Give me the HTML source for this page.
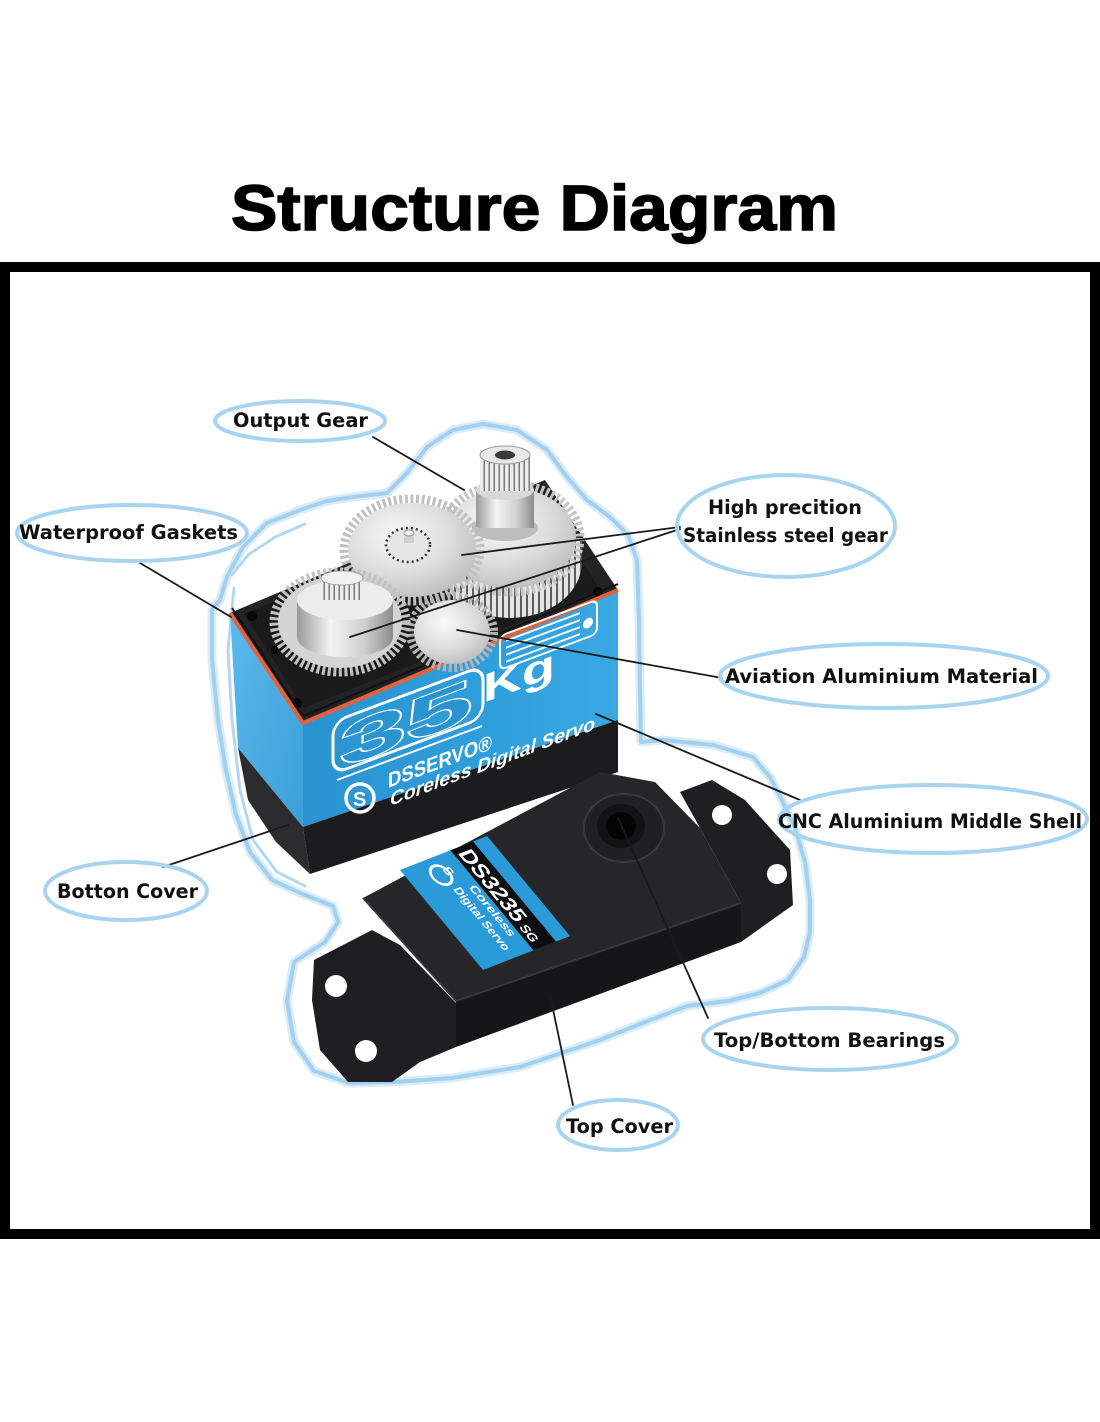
<!DOCTYPE html>
<html><head><meta charset="utf-8">
<style>
html,body{margin:0;padding:0;background:#fff;}
svg{display:block;}
.lbl{font-family:"DejaVu Sans","Liberation Sans",sans-serif;font-weight:bold;font-size:19.5px;fill:#111;}
</style></head><body>
<svg width="1100" height="1422" viewBox="0 0 1100 1422" xmlns="http://www.w3.org/2000/svg">
<defs>
 <linearGradient id="blueF" x1="0" y1="0" x2="1" y2="0">
  <stop offset="0" stop-color="#2a93d0"/><stop offset="0.6" stop-color="#2f9fdc"/><stop offset="1" stop-color="#3aa9e3"/>
 </linearGradient>
 <linearGradient id="blueL" x1="0" y1="0" x2="1" y2="1">
  <stop offset="0" stop-color="#5bb9ec"/><stop offset="1" stop-color="#3d9fd8"/>
 </linearGradient>
 <radialGradient id="silver" cx="0.4" cy="0.35" r="0.75">
  <stop offset="0" stop-color="#fafafa"/><stop offset="0.55" stop-color="#dcdcdc"/><stop offset="1" stop-color="#b8b8b8"/>
 </radialGradient>
 <linearGradient id="silverH" x1="0" y1="0" x2="1" y2="0">
  <stop offset="0" stop-color="#9a9a9a"/><stop offset="0.35" stop-color="#f4f4f4"/><stop offset="0.7" stop-color="#cfcfcf"/><stop offset="1" stop-color="#8c8c8c"/>
 </linearGradient>
 <pattern id="vstripe" width="6" height="20" patternUnits="userSpaceOnUse">
  <rect width="6" height="20" fill="#e4e4e4"/><rect x="4" width="2" height="20" fill="#5e5e5e"/>
 </pattern>
 <pattern id="vstripe2" width="5" height="20" patternUnits="userSpaceOnUse">
  <rect width="5" height="20" fill="#ececec"/><rect x="3.5" width="1.5" height="20" fill="#7a7a7a"/>
 </pattern>
</defs>
<rect width="1100" height="1422" fill="#fff"/>

<!-- Title -->
<text x="231" y="230" font-family="Liberation Sans, sans-serif" font-weight="bold" font-size="64" textLength="607" lengthAdjust="spacingAndGlyphs" fill="#000" stroke="#000" stroke-width="1.6">Structure Diagram</text>

<!-- Frame -->
<rect x="5" y="267" width="1090" height="967" fill="none" stroke="#000" stroke-width="10"/>

<!-- Glow outline -->
<g fill="none" stroke-linejoin="round" stroke-linecap="round">
 <path d="M453,430 L483,424 L517,430 L547,450 L567,477 L587,500 L610,517 L628,535 L637,560 L639,620 L640,690 L641,742 L663,740 L713,745 L753,757 L770,777 L782,800 L795,828 L805,862 L810,900 L810,932 L804,957 L788,980 L760,993 L728,1001 L687,1006 L640,1024 L600,1040 L520,1067 L452,1078 L394,1082 L349,1083 L314,1071 L294,1042 L287,1001 L294,962 L325,942 L338,922 L333,906 L300,893 L272,880 L250,852 L236,815 L226,770 L218,720 L212,660 L212,610 L220,600 L227,577 L243,547 L267,523 L300,510 L327,501 L353,497 L387,493 L407,473 L427,447 Z" stroke="#d8ecf8" stroke-width="9"/>
 <path d="M453,430 L483,424 L517,430 L547,450 L567,477 L587,500 L610,517 L628,535 L637,560 L639,620 L640,690 L641,742 L663,740 L713,745 L753,757 L770,777 L782,800 L795,828 L805,862 L810,900 L810,932 L804,957 L788,980 L760,993 L728,1001 L687,1006 L640,1024 L600,1040 L520,1067 L452,1078 L394,1082 L349,1083 L314,1071 L294,1042 L287,1001 L294,962 L325,942 L338,922 L333,906 L300,893 L272,880 L250,852 L236,815 L226,770 L218,720 L212,660 L212,610 L220,600 L227,577 L243,547 L267,523 L300,510 L327,501 L353,497 L387,493 L407,473 L427,447 Z" stroke="#a3d0ee" stroke-width="4"/>
 <path d="M234,588 L228,650 L232,720 L240,790 L253,840 L277,872 L305,886" stroke="#b3d9f1" stroke-width="3"/>
 <path d="M232,575 L248,555 L275,537 L305,524" stroke="#b3d9f1" stroke-width="3"/>
</g>

<!-- ===== Servo box ===== -->
<polygon points="230,613 303,723 618,590 545,480" fill="#232325"/>
<polygon points="244,614 304,708 600,590 540,495" fill="#1a1a1b"/>
<circle cx="252" cy="616" r="5" fill="#070707"/>
<circle cx="297" cy="703" r="5" fill="#070707"/>
<circle cx="598" cy="592" r="5" fill="#070707"/>
<circle cx="275" cy="650" r="4" fill="#070707"/>
<polygon points="230,613 303,723 303,827 238,748" fill="url(#blueL)"/>
<polygon points="303,723 618,590 618,720 303,827" fill="url(#blueF)"/>
<polygon points="238,748 303,827 310,874 276,842 248,800" fill="#2c2c2e"/>
<polygon points="303,827 618,720 618,772 310,874" fill="#1c1c1e"/>
<polyline points="230,613 303,723 618,590" fill="none" stroke="#e2623b" stroke-width="4" stroke-linejoin="round"/>
<polyline points="232,608 303,716 618,584" fill="none" stroke="#111" stroke-width="2" stroke-linejoin="round"/>

<!-- front face printing -->
<g fill="#fff" font-family="Liberation Sans, sans-serif" font-weight="bold">
 <g transform="translate(333,772) skewY(-20.5)">
  <rect x="0" y="-50" width="150" height="52" rx="14" fill="none" stroke="#fff" stroke-width="3"/>
 </g>
 <text transform="translate(340,768) skewY(-20.5) scale(2.05,1)" font-size="58" fill="#2a93d0" stroke="#fff" stroke-width="2.2" paint-order="stroke">35</text>
 <g transform="translate(500,668) skewY(-20.5)" stroke="#fff" stroke-width="2">
  <rect x="0" y="-32" width="97" height="34" rx="6" fill="none"/>
  <line x1="6" y1="-25" x2="80" y2="-25"/>
  <line x1="6" y1="-18" x2="80" y2="-18"/>
  <line x1="6" y1="-11" x2="80" y2="-11"/>
  <line x1="6" y1="-4" x2="80" y2="-4"/>
  <circle cx="88" cy="-12" r="5" fill="#fff" stroke="none"/>
 </g>
 <text transform="translate(483,703) skewY(-20.5) scale(1.35,1)" font-size="40">Kg</text>
 <line x1="337" y1="780" x2="482" y2="726" stroke="#fff" stroke-width="2"/>
 <text transform="translate(388,788) skewY(-20.5)" font-size="21" textLength="104" lengthAdjust="spacingAndGlyphs">DSSERVO®</text>
 <text transform="translate(390,806) skewY(-20.5)" font-size="19" font-style="italic" textLength="205" lengthAdjust="spacingAndGlyphs">Coreless Digital Servo</text>
 <circle cx="360" cy="798" r="14" fill="none" stroke="#fff" stroke-width="3.5"/>
 <text x="353" y="806" font-size="20">S</text>
</g>

<!-- ===== Gears ===== -->
<path d="M438,538 L438,562 A72,56 0 0 0 582,562 L582,538 Z" fill="url(#vstripe)"/>
<ellipse cx="510" cy="538" rx="70" ry="54" fill="none" stroke="#c4c4c4" stroke-width="9" stroke-dasharray="3 2.6"/>
<ellipse cx="510" cy="538" rx="66" ry="50" fill="url(#silver)"/>
<ellipse cx="505" cy="528" rx="33" ry="13" fill="#bdbdbd"/>
<rect x="476" y="490" width="58" height="38" fill="url(#silverH)"/>
<ellipse cx="505" cy="490" rx="29" ry="10" fill="#d8d8d8"/>
<rect x="480" y="455" width="50" height="36" fill="url(#vstripe2)"/>
<ellipse cx="505" cy="455" rx="25" ry="9" fill="#e8e8e8" stroke="#9a9a9a" stroke-width="1"/>
<ellipse cx="505" cy="455" rx="10" ry="4.5" fill="#3a3a3a"/>
<ellipse cx="412" cy="550" rx="68" ry="51" fill="none" stroke="#c0c0c0" stroke-width="9" stroke-dasharray="3 2.6"/>
<ellipse cx="412" cy="550" rx="64" ry="47" fill="url(#silver)"/>
<ellipse cx="408" cy="545" rx="22" ry="17" fill="#e6e6e6" stroke="#333" stroke-width="2.5" stroke-dasharray="2 3"/>
<rect x="404" y="533" width="10" height="10" fill="#d0d0d0"/>
<ellipse cx="409" cy="533" rx="5" ry="3" fill="#f4f4f4" stroke="#888" stroke-width="0.8"/>
<ellipse cx="452" cy="632" rx="42" ry="36" fill="none" stroke="#b4b4b4" stroke-width="8" stroke-dasharray="3 2.6"/>
<ellipse cx="452" cy="632" rx="38" ry="32" fill="url(#silver)"/>
<ellipse cx="340" cy="622" rx="66" ry="50" fill="none" stroke="#c2c2c2" stroke-width="9" stroke-dasharray="3 2.6"/>
<ellipse cx="340" cy="622" rx="62" ry="46" fill="#d4d4d4"/>
<path d="M297,600 L297,637 A48,20 0 0 0 393,637 L393,600 Z" fill="url(#silverH)"/>
<ellipse cx="345" cy="600" rx="48" ry="20" fill="#ececec"/>
<rect x="321" y="578" width="42" height="22" fill="url(#vstripe2)"/>
<ellipse cx="342" cy="578" rx="21" ry="7" fill="#f2f2f2" stroke="#999" stroke-width="0.8"/>

<!-- ===== Top cover ===== -->
<polygon points="314,960 372,930 400,945 456,1003 456,1047 420,1062 392,1082 348,1082 320,1050 312,1000" fill="#1f1f21"/>
<circle cx="336" cy="986" r="11" fill="#fff"/>
<circle cx="366" cy="1051" r="11" fill="#fff"/>
<polygon points="680,792 712,780 745,800 790,850 793,905 741,942 741,903 700,828" fill="#1f1f21"/>
<circle cx="722" cy="815" r="10" fill="#fff"/>
<circle cx="777" cy="874" r="10" fill="#fff"/>
<polygon points="456,1001 741,903 741,942 456,1047" fill="#161618"/>
<polygon points="363,898 600,772 655,782 700,828 741,903 456,1001" fill="#262628"/>
<polyline points="363,898 456,1001 741,903" fill="none" stroke="#38383a" stroke-width="2"/>
<ellipse cx="624" cy="828" rx="40" ry="34" fill="#202022" stroke="#3a3a3c" stroke-width="2"/>
<ellipse cx="621" cy="826" rx="24" ry="22" fill="#131315"/>
<ellipse cx="621" cy="826" rx="15" ry="14" fill="#050505"/>
<g transform="matrix(0.87,-0.34,0.83,1,400,870)">
 <rect x="0" y="0" width="58" height="100" fill="#2a9ad8"/>
 <rect x="58" y="0" width="26" height="100" fill="#0e0e10"/>
 <rect x="84" y="0" width="16" height="100" fill="#2a9ad8"/>
 <circle cx="32" cy="16" r="9" fill="none" stroke="#fff" stroke-width="2.5"/>
 <g font-family="Liberation Sans, sans-serif" font-weight="bold" fill="#fff">
  <text transform="translate(37,11) rotate(90)" font-size="12">S</text>
  <text transform="translate(47,33) rotate(90)" font-size="12" textLength="50" lengthAdjust="spacingAndGlyphs">Coreless</text>
  <text transform="translate(32,30) rotate(90)" font-size="12" textLength="62" lengthAdjust="spacingAndGlyphs">Digital Servo</text>
  <text transform="translate(62,4) rotate(90)" font-size="22" textLength="70" lengthAdjust="spacingAndGlyphs">DS3235</text>
  <text transform="translate(62,78) rotate(90)" font-size="13" textLength="16" lengthAdjust="spacingAndGlyphs">SG</text>
 </g>
</g>

<!-- ===== Connector lines ===== -->
<g stroke="#1a1a1a" stroke-width="1.8" fill="none" stroke-linecap="round">
 <line x1="373" y1="437" x2="464" y2="490"/>
 <line x1="140" y1="563" x2="231" y2="617"/>
 <line x1="680" y1="527" x2="462" y2="555"/>
 <line x1="680" y1="529" x2="350" y2="637"/>
 <line x1="457" y1="630" x2="722" y2="678"/>
 <line x1="596" y1="714" x2="800" y2="800"/>
 <line x1="163" y1="867" x2="288" y2="825"/>
 <line x1="618" y1="818" x2="708" y2="1018"/>
 <line x1="550" y1="995" x2="573" y2="1105"/>
</g>

<!-- ===== Label ellipses ===== -->
<g fill="none" stroke="#a9d4ef" stroke-width="4">
 <ellipse cx="300" cy="421" rx="85" ry="20"/>
 <ellipse cx="132" cy="533" rx="115" ry="28"/>
 <ellipse cx="786" cy="526" rx="109" ry="51"/>
 <ellipse cx="884" cy="676" rx="164" ry="32"/>
 <ellipse cx="933" cy="819" rx="154" ry="34"/>
 <ellipse cx="126" cy="891" rx="81" ry="29"/>
 <ellipse cx="830" cy="1039" rx="127" ry="31"/>
 <ellipse cx="618" cy="1125" rx="60" ry="25"/>
</g>

<!-- ===== Label text ===== -->
<text class="lbl" x="233" y="427" textLength="135" lengthAdjust="spacingAndGlyphs">Output Gear</text>
<text class="lbl" x="19" y="539" textLength="219" lengthAdjust="spacingAndGlyphs">Waterproof Gaskets</text>
<text class="lbl" x="708" y="514" textLength="154" lengthAdjust="spacingAndGlyphs">High precition</text>
<text class="lbl" x="683" y="542" textLength="205" lengthAdjust="spacingAndGlyphs">Stainless steel gear</text>
<text class="lbl" x="725" y="683" textLength="313" lengthAdjust="spacingAndGlyphs">Aviation Aluminium Material</text>
<text class="lbl" x="778" y="828" textLength="304" lengthAdjust="spacingAndGlyphs">CNC Aluminium Middle Shell</text>
<text class="lbl" x="57" y="898" textLength="141" lengthAdjust="spacingAndGlyphs">Botton Cover</text>
<text class="lbl" x="714" y="1047" textLength="231" lengthAdjust="spacingAndGlyphs">Top/Bottom Bearings</text>
<text class="lbl" x="566" y="1133" textLength="107" lengthAdjust="spacingAndGlyphs">Top Cover</text>
</svg>
</body></html>
